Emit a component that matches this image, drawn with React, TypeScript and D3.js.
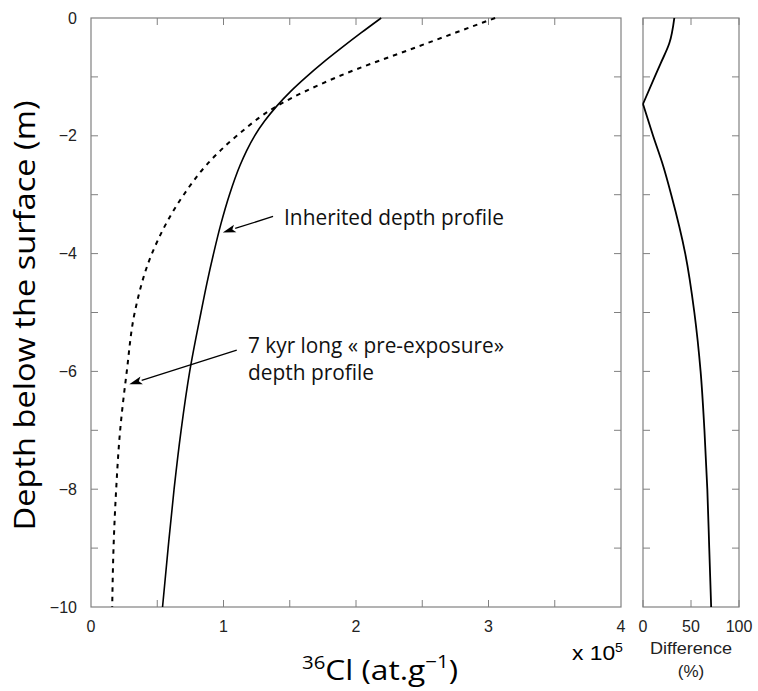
import React, { useEffect, useRef } from 'react';
import * as d3 from 'd3';

// depth (m) and 36Cl concentration (x 10^5 at/g)
const depths = [0, -0.25, -0.5, -0.75, -1, -1.25, -1.5, -1.75, -2, -2.25, -2.5, -3, -3.5, -4, -4.5, -5, -6, -7, -8, -9, -10];
const inherited = [2.19, 2.04, 1.895, 1.755, 1.625, 1.505, 1.40, 1.31, 1.235, 1.175, 1.125, 1.045, 0.98, 0.925, 0.875, 0.83, 0.745, 0.68, 0.627, 0.582, 0.54];

const preDepths = [0, -0.25, -0.5, -1, -1.5, -2, -2.5, -3, -4, -5, -6, -7, -8, -9, -10];
const preExposure = [3.05, 2.75, 2.45, 1.86, 1.40, 1.10, 0.87, 0.70, 0.46, 0.33, 0.27, 0.22, 0.19, 0.17, 0.16];

// difference panel (%)
const diffDepths = [0, -0.43, -0.77, -1, -1.46, -2, -2.5, -3, -4, -5, -6, -7, -8, -9, -10];
const diffValues = [32.6, 27.4, 18.4, 12.2, 0, 10.5, 20.8, 29.4, 44, 53.5, 60, 64, 67, 69, 71];

const xTicks = [0, 1, 2, 3, 4];
const yTicks = [0, -2, -4, -6, -8, -10];
const diffTicks = [0, 50, 100];

const W = 758;
const H = 691;
const AXIS = '#808080';
const TICK_FONT = '"Liberation Sans", Arial, sans-serif';
const TITLE_FONT = '"Open Sans", "Noto Sans", sans-serif';

export default function App() {
  const svgRef = useRef<SVGSVGElement>(null);

  useEffect(() => {
    if (!svgRef.current) return;
    const svg = d3.select(svgRef.current);
    svg.selectAll('*').remove();

    const x = d3.scaleLinear().domain([0, 4]).range([91, 621]);
    const y = d3.scaleLinear().domain([-10, 0]).range([607, 18]);
    const xd = d3.scaleLinear().domain([0, 100]).range([643, 739]);

    const drawFrame = (x0: number, x1: number) => {
      svg.append('rect')
        .attr('x', x0).attr('y', y(0))
        .attr('width', x1 - x0).attr('height', y(-10) - y(0))
        .attr('fill', 'none').attr('stroke', AXIS).attr('stroke-width', 1.2);
      // y minor ticks every metre, both sides
      d3.range(-9, 0).forEach(d => {
        svg.append('line').attr('x1', x0).attr('x2', x0 + 7).attr('y1', y(d)).attr('y2', y(d))
          .attr('stroke', AXIS).attr('stroke-width', 1);
        svg.append('line').attr('x1', x1).attr('x2', x1 - 7).attr('y1', y(d)).attr('y2', y(d))
          .attr('stroke', AXIS).attr('stroke-width', 1);
      });
    };

    // main panel
    drawFrame(x(0), x(4));
    d3.range(0.5, 4, 0.5).forEach(v => {
      svg.append('line').attr('x1', x(v)).attr('x2', x(v)).attr('y1', y(0)).attr('y2', y(0) + 7)
        .attr('stroke', AXIS).attr('stroke-width', 1);
      svg.append('line').attr('x1', x(v)).attr('x2', x(v)).attr('y1', y(-10)).attr('y2', y(-10) - 7)
        .attr('stroke', AXIS).attr('stroke-width', 1);
    });

    svg.append('g').selectAll('text').data(xTicks).join('text')
      .attr('x', d => x(d)).attr('y', 632)
      .attr('text-anchor', 'middle')
      .attr('font-family', TICK_FONT).attr('font-size', 16).attr('fill', '#222')
      .text(d => d);

    svg.append('g').selectAll('text').data(yTicks).join('text')
      .attr('x', 77).attr('y', d => y(d) + 5.5)
      .attr('text-anchor', 'end')
      .attr('font-family', TICK_FONT).attr('font-size', 16).attr('fill', '#222')
      .text(d => (d < 0 ? '\u2212' + Math.abs(d) : d));

    // difference panel
    drawFrame(xd(0), xd(100));
    diffTicks.forEach(v => {
      svg.append('line').attr('x1', xd(v)).attr('x2', xd(v)).attr('y1', y(0)).attr('y2', y(0) + 7)
        .attr('stroke', AXIS).attr('stroke-width', 1);
      svg.append('line').attr('x1', xd(v)).attr('x2', xd(v)).attr('y1', y(-10)).attr('y2', y(-10) - 7)
        .attr('stroke', AXIS).attr('stroke-width', 1);
    });
    svg.append('g').selectAll('text').data(diffTicks).join('text')
      .attr('x', d => xd(d)).attr('y', 632)
      .attr('text-anchor', 'middle')
      .attr('font-family', TICK_FONT).attr('font-size', 16).attr('fill', '#222')
      .text(d => d);

    svg.append('text').attr('x', xd(50)).attr('y', 654).attr('text-anchor', 'middle')
      .attr('font-family', TICK_FONT).attr('font-size', 17).attr('fill', '#222')
      .attr('textLength', 82).attr('lengthAdjust', 'spacingAndGlyphs')
      .text('Difference');
    svg.append('text').attr('x', xd(50)).attr('y', 677).attr('text-anchor', 'middle')
      .attr('font-family', TICK_FONT).attr('font-size', 17).attr('fill', '#222')
      .text('(%)');

    // curves
    const line = d3.line<[number, number]>()
      .x(d => x(d[0]))
      .y(d => y(d[1]))
      .curve(d3.curveMonotoneY);

    svg.append('path')
      .datum(inherited.map((v, i) => [v, depths[i]] as [number, number]))
      .attr('fill', 'none').attr('stroke', '#000').attr('stroke-width', 1.6)
      .attr('d', line);

    svg.append('path')
      .datum(preExposure.map((v, i) => [v, preDepths[i]] as [number, number]))
      .attr('fill', 'none').attr('stroke', '#000').attr('stroke-width', 2)
      .attr('stroke-dasharray', '4.5,5')
      .attr('d', line);

    const dline = d3.line<[number, number]>()
      .x(d => xd(d[0]))
      .y(d => y(d[1]))
      .curve(d3.curveMonotoneY);
    const diffPts = diffValues.map((v, i) => [v, diffDepths[i]] as [number, number]);
    const vertex = diffValues.indexOf(0);
    [diffPts.slice(0, vertex + 1), diffPts.slice(vertex)].forEach(seg => {
      svg.append('path').datum(seg)
        .attr('fill', 'none').attr('stroke', '#000').attr('stroke-width', 1.8)
        .attr('d', dline);
    });

    // annotations: arrows point at the curves
    const atInherited = d3.scaleLinear().domain(depths).range(inherited);
    const atPre = d3.scaleLinear().domain(preDepths).range(preExposure);

    const arrow = (fx: number, fy: number, tx: number, ty: number) => {
      const x1 = x(fx), y1 = y(fy), x2 = x(tx), y2 = y(ty);
      const a = Math.atan2(y2 - y1, x2 - x1);
      const len = 13, half = 4;
      const bx = x2 - len * Math.cos(a), by = y2 - len * Math.sin(a);
      svg.append('line').attr('x1', x1).attr('y1', y1).attr('x2', bx).attr('y2', by)
        .attr('stroke', '#000').attr('stroke-width', 1.3);
      const p = [
        [x2, y2],
        [bx + half * Math.sin(a), by - half * Math.cos(a)],
        [x2 - (len - 3) * Math.cos(a), y2 - (len - 3) * Math.sin(a)],
        [bx - half * Math.sin(a), by + half * Math.cos(a)],
      ];
      svg.append('path').attr('d', 'M' + p.map(q => q.join(',')).join('L') + 'Z').attr('fill', '#000');
    };

    arrow(1.374, -3.37, atInherited(-3.64) + 0.03, -3.64);
    arrow(1.10, -5.64, atPre(-6.22) + 0.03, -6.22);

    const note = (vx: number, vy: number, label: string, len: number) =>
      svg.append('text').attr('x', x(vx)).attr('y', y(vy))
        .attr('font-family', TITLE_FONT).attr('font-size', 21).attr('fill', '#111')
        .attr('textLength', len).attr('lengthAdjust', 'spacingAndGlyphs')
        .text(label);
    note(1.457, -3.51, 'Inherited depth profile', 220);
    note(1.185, -5.68, '7 kyr long \u00ab pre-exposure\u00bb', 256);
    note(1.185, -6.14, 'depth profile', 126);

    // axis titles
    svg.append('text')
      .attr('transform', `translate(35,${(y(0) + y(-10)) / 2 + 3}) rotate(-90)`)
      .attr('text-anchor', 'middle')
      .attr('font-family', TITLE_FONT).attr('font-size', 29).attr('fill', '#000')
      .attr('textLength', 430).attr('lengthAdjust', 'spacingAndGlyphs')
      .text('Depth below the surface (m)');

    const xt = svg.append('text').attr('x', 302).attr('y', 680)
      .attr('font-family', TITLE_FONT).attr('font-size', 28).attr('fill', '#000')
      .attr('textLength', 156).attr('lengthAdjust', 'spacingAndGlyphs');
    xt.append('tspan').attr('font-size', 18).attr('dy', -11).text('36');
    xt.append('tspan').attr('dy', 11).text('Cl (at.g');
    xt.append('tspan').attr('font-size', 18).attr('dy', -12).text('\u22121');
    xt.append('tspan').attr('dy', 12).text(')');

    const xs = svg.append('text').attr('x', 572).attr('y', 660)
      .attr('font-family', TICK_FONT).attr('font-size', 21).attr('fill', '#000')
      .attr('textLength', 51).attr('lengthAdjust', 'spacingAndGlyphs');
    xs.append('tspan').text('x 10');
    xs.append('tspan').attr('font-size', 13).attr('dy', -8).text('5');
  }, []);

  return (
    <svg
      ref={svgRef}
      width={W}
      height={H}
      style={{ position: 'absolute', left: 0, top: 0, background: '#fff' }}
    />
  );
}
